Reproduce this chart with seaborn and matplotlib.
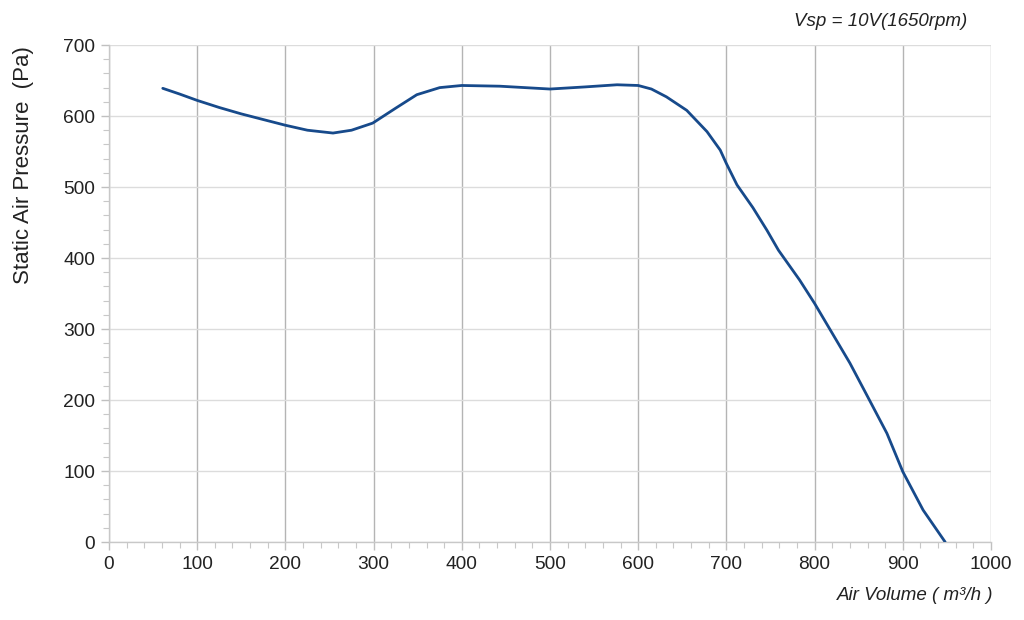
import seaborn as sns
import matplotlib.pyplot as plt
from matplotlib.ticker import MultipleLocator
import pandas as pd

# values
air_volume = [61, 80, 100, 125, 150, 175, 200, 225, 254, 275, 299, 325, 349, 375,
              400, 443, 500, 540, 576, 600, 615, 632, 655, 678, 693, 700, 712,
              730, 746, 759, 783, 800, 820, 840, 860, 882, 900, 923, 948]
pressure = [639, 631, 622, 612, 603, 595, 587, 580, 576, 580, 590, 611, 630, 640,
            643, 642, 638, 641, 644, 643, 638, 627, 608, 578, 552, 533, 503,
            471, 439, 411, 369, 336, 294, 252, 205, 153, 99, 45, 0]

x_ticks = [0, 100, 200, 300, 400, 500, 600, 700, 800, 900, 1000]
y_ticks = [0, 100, 200, 300, 400, 500, 600, 700]


def do_plot():
    sns.set_style('white')
    plt.rcParams['font.family'] = ['Liberation Sans', 'DejaVu Sans']

    df = pd.DataFrame({'air_volume': air_volume, 'pressure': pressure})

    fig = plt.figure(figsize=(10.24, 6.2), dpi=100)
    fig.subplots_adjust(left=0.1064, right=0.9678, top=0.9274, bottom=0.1258)
    ax = plt.axes()

    sns.lineplot(data=df, x='air_volume', y='pressure', color='#174a8b',
                 linewidth=2.0, sort=False, ax=ax, zorder=3)

    ax.set_xlim(0, 1000)
    ax.set_ylim(0, 700)
    ax.set_xticks(x_ticks)
    ax.set_yticks(y_ticks)
    ax.xaxis.set_minor_locator(MultipleLocator(20))
    ax.yaxis.set_minor_locator(MultipleLocator(20))

    # vertical grid darker than horizontal
    ax.grid(False)
    ax.xaxis.grid(True, which='major', color='#b4b4b4', linewidth=1.0)
    ax.yaxis.grid(True, which='major', color='#dcdcdc', linewidth=1.0)

    for side in ['top', 'right']:
        ax.spines[side].set_visible(False)
    for side in ['left', 'bottom']:
        ax.spines[side].set_color('#c8c8c8')
        ax.spines[side].set_linewidth(1.0)

    ax.tick_params(which='major', direction='out', length=6, width=1,
                   color='#c0c0c0', labelsize=13.8, labelcolor='#222222', pad=4,
                   bottom=True, left=True)
    ax.tick_params(which='minor', direction='out', length=4, width=0.8,
                   color='#c8c8c8', bottom=True, left=True)

    ax.set_xlabel('')
    ax.set_ylabel('')
    fig.text(0.0225, 0.925, 'Static Air Pressure  (Pa)', rotation=90,
             ha='center', va='top', fontsize=16, color='#222222')

    fig.text(0.945, 0.965, 'Vsp = 10V(1650rpm)', ha='right', va='center',
             fontsize=13.5, style='italic', color='#222222')
    fig.text(0.970, 0.040, 'Air Volume ( m³/h )', ha='right', va='center',
             fontsize=13.5, style='italic', color='#222222')

    plt.savefig('out.png', dpi=100)


if __name__ == '__main__':
    do_plot()
